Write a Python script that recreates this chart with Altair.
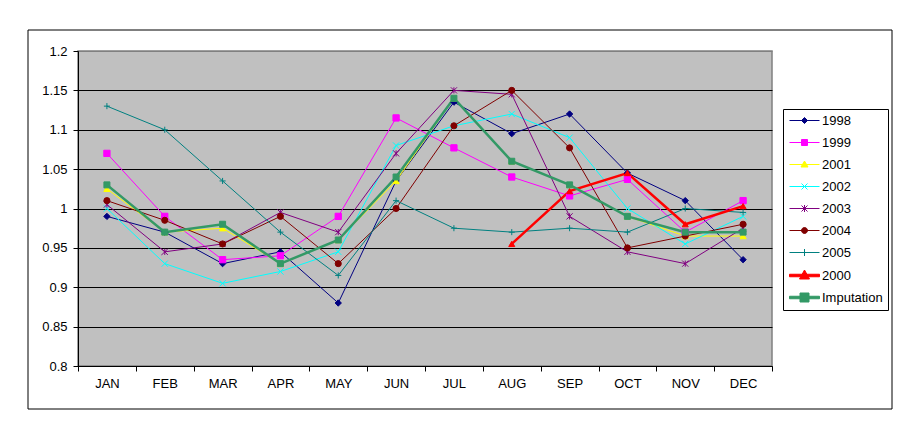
import altair as alt
import pandas as pd

months = ["JAN", "FEB", "MAR", "APR", "MAY", "JUN", "JUL", "AUG", "SEP", "OCT", "NOV", "DEC"]

series = ["1998", "1999", "2001", "2002", "2003", "2004", "2005", "2000", "Imputation"]
colors = ["#000080", "#FF00FF", "#FFFF00", "#00FFFF", "#800080", "#800000", "#008080", "#FF0000", "#339966"]
thick_series = ["2000", "Imputation"]

y1998 = [0.99, 0.97, 0.93, 0.945, 0.88, 1.035, 1.135, 1.095, 1.12, 1.045, 1.01, 0.935]
y1999 = [1.07, 0.99, 0.935, 0.94, 0.99, 1.115, 1.077, 1.04, 1.016, 1.037, 0.97, 1.01]
y2001 = [1.025, 0.97, 0.975, 0.93, 0.96, 1.035, 1.14, 1.06, 1.03, 0.99, 0.965, 0.965]
y2002 = [1.0, 0.93, 0.905, 0.92, 0.945, 1.08, 1.105, 1.12, 1.09, 1.0, 0.955, 0.99]
y2003 = [1.005, 0.945, 0.955, 0.995, 0.97, 1.07, 1.15, 1.145, 0.99, 0.945, 0.93, 0.975]
y2004 = [1.01, 0.985, 0.955, 0.99, 0.93, 1.0, 1.105, 1.15, 1.077, 0.95, 0.965, 0.98]
y2005 = [1.13, 1.1, 1.035, 0.97, 0.915, 1.01, 0.975, 0.97, 0.975, 0.97, 1.0, 0.995]
y2000 = [None, None, None, None, None, None, None, 0.955, 1.022, 1.045, 0.98, 1.003]
imputation = [1.03, 0.97, 0.98, 0.93, 0.96, 1.04, 1.14, 1.06, 1.03, 0.99, 0.97, 0.97]

y_ticks = [0.8, 0.85, 0.9, 0.95, 1.0, 1.05, 1.1, 1.15, 1.2]

values_by_series = [y1998, y1999, y2001, y2002, y2003, y2004, y2005, y2000, imputation]

rows = []
for name, vals in zip(series, values_by_series):
    for m, v in zip(months, vals):
        if v is not None:
            rows.append({"month": m, "value": v, "series": name,
                         "thick": name in thick_series})
df = pd.DataFrame(rows)

# marker styles
XP = "M-1,-1L1,1M-1,1L1,-1"
plot_shapes = ["diamond", "square", "triangle-up", XP, XP + "M0,-1L0,1",
               "circle", "M-1,0L1,0M0,-1L0,1", "triangle-up", "square"]
plot_sizes = [40, 36, 49, 36, 49, 36, 64, 110, 90]

L = "M-3,0L3,0"
T = "M-3,-0.25L3,-0.25L3,0.25L-3,0.25Z"
legend_shapes = [
    L + "M0,-0.6L0.6,0L0,0.6L-0.6,0Z",
    L + "M-0.6,-0.6L0.6,-0.6L0.6,0.6L-0.6,0.6Z",
    L + "M0,-0.7L0.7,0.5L-0.7,0.5Z",
    L + "M-0.6,-0.6L0.6,0.6M-0.6,0.6L0.6,-0.6",
    L + "M-0.6,-0.6L0.6,0.6M-0.6,0.6L0.6,-0.6M0,-0.7L0,0.7",
    L + "M-0.6,0A0.6,0.6,0,1,0,0.6,0A0.6,0.6,0,1,0,-0.6,0Z",
    L + "M-0.7,0L0.7,0M0,-0.7L0,0.7",
    T + "M0,-1.1L1.0,0.7L-1.0,0.7Z",
    T + "M-0.9,-0.9L0.9,-0.9L0.9,0.9L-0.9,0.9Z",
]

FONT = "Liberation Sans"

x_enc = alt.X(
    "month:O",
    sort=months,
    scale=alt.Scale(type="band", domain=months, paddingInner=0, paddingOuter=0),
    bandPosition=0.5,
    axis=alt.Axis(title=None, tickBand="extent", labelAngle=0, tickSize=5,
                  labelPadding=6, grid=False, domainColor="black", tickColor="black",
                  labelColor="black", labelFont=FONT, labelFontSize=13),
)
y_enc = alt.Y(
    "value:Q",
    scale=alt.Scale(domain=[0.8, 1.2], nice=False, zero=False),
    axis=alt.Axis(title=None, values=y_ticks, format="~g", tickSize=5, labelPadding=6,
                  grid=True,
                  gridColor={"condition": {"test": "datum.value >= 1.199", "value": "#808080"},
                             "value": "black"},
                  gridOpacity=1, gridWidth=1,
                  domainColor="black", tickColor="black", labelColor="black",
                  labelFont=FONT, labelFontSize=13),
)

color_scale = alt.Scale(domain=series, range=colors)

base = alt.Chart(df)

thin_lines = base.transform_filter("!datum.thick").mark_line(strokeWidth=1).encode(
    x=x_enc,
    y=y_enc,
    color=alt.Color("series:N", scale=color_scale, legend=None),
)

thick_lines = base.transform_filter("datum.thick").mark_line(strokeWidth=2.5).encode(
    x=x_enc,
    y=y_enc,
    color=alt.Color("series:N", scale=color_scale, legend=None),
)

points = base.mark_point(filled=True, opacity=1, strokeWidth=1).encode(
    x=x_enc,
    y=y_enc,
    color=alt.Color("series:N", scale=color_scale, legend=None),
    stroke=alt.Stroke("series:N", scale=color_scale, legend=None),
    shape=alt.Shape("series:N", scale=alt.Scale(domain=series, range=plot_shapes), legend=None),
    size=alt.Size("series:N", scale=alt.Scale(domain=series, range=plot_sizes), legend=None),
)

leg = alt.Legend(
    title=None, orient="none", legendX=705, legendY=58, direction="vertical",
    padding=5, strokeColor="black", fillColor="white", labelFont=FONT,
    labelFontSize=13, labelColor="black", symbolSize=100, symbolOffset=10,
    labelOffset=11, rowPadding=8, symbolStrokeWidth=1, symbolLimit=20,
)

legend_layer = base.transform_filter("false").mark_point(filled=True, opacity=1, strokeWidth=1).encode(
    x=x_enc,
    y=y_enc,
    fill=alt.Fill("series:N", scale=color_scale, legend=leg),
    stroke=alt.Stroke("series:N", scale=color_scale, legend=leg),
    shape=alt.Shape("series:N", scale=alt.Scale(domain=series, range=legend_shapes), legend=leg),
)

frame = alt.Chart(alt.Data(values=[{"a": 1}])).mark_rect(
    fill="transparent", stroke="black", strokeWidth=1
).encode(
    x=alt.value(-50), x2=alt.value(814), y=alt.value(-21), y2=alt.value(358)
)

chart = alt.layer(frame, thin_lines, thick_lines, points, legend_layer).resolve_scale(
    color="independent", fill="independent", stroke="independent",
    shape="independent", size="independent",
).properties(
    width=694, height=315,
    padding={"left": 19, "top": 21, "right": 5, "bottom": 5},
).configure_view(
    fill="#C0C0C0", stroke="#808080", strokeWidth=1.5
)

chart.save("out.html", embed_options={"renderer": "svg", "actions": False})
